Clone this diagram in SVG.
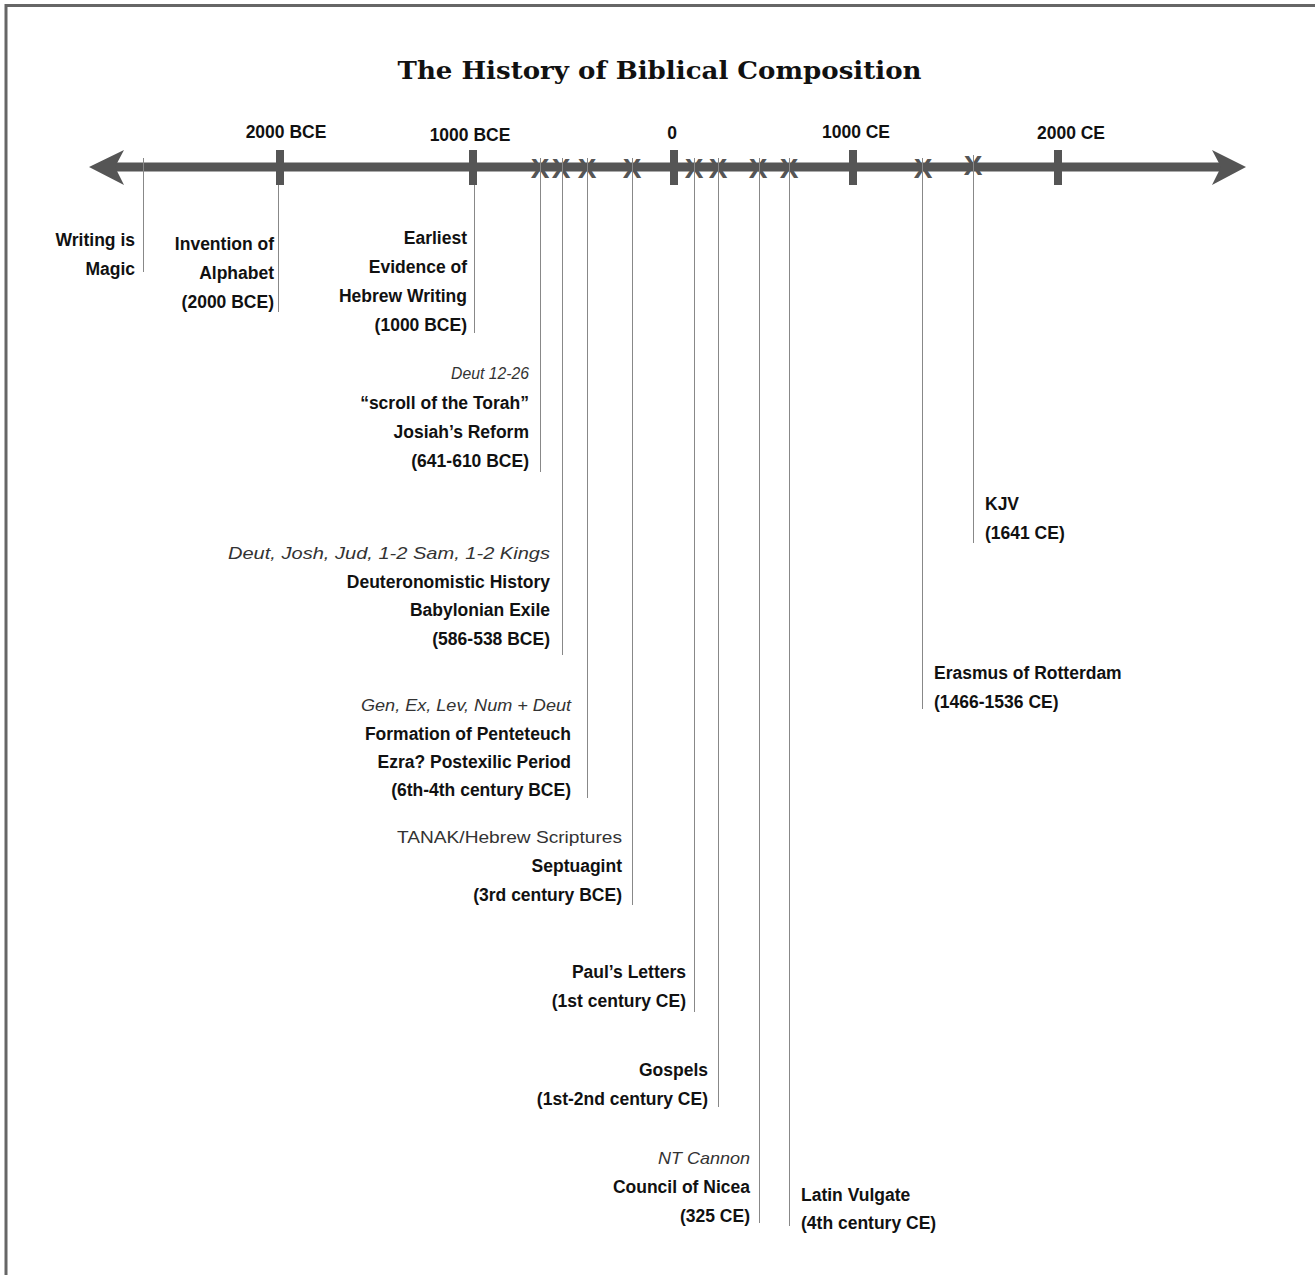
<svg xmlns="http://www.w3.org/2000/svg" width="1315" height="1275" viewBox="0 0 1315 1275">
<style>
.lbl{font-family:"Liberation Sans",Arial,sans-serif;font-weight:bold;font-size:17.5px;fill:#111}
.sub{font-family:"Liberation Sans",Arial,sans-serif;font-style:italic;font-size:17px;fill:#333}
.subn{font-family:"Liberation Sans",Arial,sans-serif;font-size:17px;fill:#333}
.end{text-anchor:end}
.ax{font-family:"Liberation Sans",Arial,sans-serif;font-weight:bold;font-size:17.5px;fill:#111;text-anchor:middle}
.x{font-family:"Liberation Sans Narrow","Liberation Sans",sans-serif;font-weight:bold;font-size:28px;fill:#555;text-anchor:middle}
.lead{stroke:#888;stroke-width:1;fill:none}
</style>
<rect x="0" y="0" width="1315" height="1275" fill="#fff"/>
<rect x="6" y="5.5" width="1400" height="1400" fill="none" stroke="#666" stroke-width="3"/>
<text x="659.5" y="79" font-family="DejaVu Serif,serif" font-weight="bold" font-size="25" text-anchor="middle" textLength="524" lengthAdjust="spacingAndGlyphs" fill="#111">The History of Biblical Composition</text>

<g id="axis">
<line x1="112" y1="167" x2="1224" y2="167" stroke="#555" stroke-width="9"/>
<polygon points="89,167 124,150 115,167 124,185" fill="#555"/>
<polygon points="1246,167 1212,150 1221,167 1212,185" fill="#555"/>
<rect x="276" y="150" width="8" height="35" fill="#555"/>
<rect x="469" y="150" width="8" height="35" fill="#555"/>
<rect x="670" y="150" width="8" height="35" fill="#555"/>
<rect x="849" y="150" width="8" height="35" fill="#555"/>
<rect x="1054" y="150" width="8" height="35" fill="#555"/>
<text class="ax" x="286" y="138">2000 BCE</text>
<text class="ax" x="470" y="141">1000 BCE</text>
<text class="ax" x="672" y="139">0</text>
<text class="ax" x="856" y="138">1000 CE</text>
<text class="ax" x="1071" y="139">2000 CE</text>
<text class="x" x="540" y="178">X</text>
<text class="x" x="561" y="178">X</text>
<text class="x" x="587" y="178">X</text>
<text class="x" x="632" y="178">X</text>
<text class="x" x="694" y="178">X</text>
<text class="x" x="718" y="178">X</text>
<text class="x" x="758" y="178">X</text>
<text class="x" x="789" y="178">X</text>
<text class="x" x="923" y="178">X</text>
<text class="x" x="973" y="175">X</text>
</g>

<g id="connectors">
<line class="lead" x1="143.5" y1="158" x2="143.5" y2="272"/>
<line class="lead" x1="278.5" y1="185" x2="278.5" y2="312"/>
<line class="lead" x1="474.5" y1="185" x2="474.5" y2="333"/>
<line class="lead" x1="540.5" y1="158" x2="540.5" y2="472"/>
<line class="lead" x1="562.5" y1="158" x2="562.5" y2="655"/>
<line class="lead" x1="587.5" y1="158" x2="587.5" y2="798"/>
<line class="lead" x1="632.5" y1="158" x2="632.5" y2="905"/>
<line class="lead" x1="694.5" y1="158" x2="694.5" y2="1012"/>
<line class="lead" x1="718.5" y1="158" x2="718.5" y2="1107"/>
<line class="lead" x1="759.5" y1="158" x2="759.5" y2="1223"/>
<line class="lead" x1="789.5" y1="158" x2="789.5" y2="1226"/>
<line class="lead" x1="922.5" y1="158" x2="922.5" y2="709"/>
<line class="lead" x1="973.5" y1="155" x2="973.5" y2="543"/>
</g>

<g id="writing-magic">
<text class="lbl end" x="135" y="246">Writing is</text>
<text class="lbl end" x="135" y="275">Magic</text>
</g>
<g id="alphabet">
<text class="lbl end" x="274" y="250">Invention of</text>
<text class="lbl end" x="274" y="279">Alphabet</text>
<text class="lbl end" x="274" y="308">(2000 BCE)</text>
</g>
<g id="hebrew-writing">
<text class="lbl end" x="467" y="244">Earliest</text>
<text class="lbl end" x="467" y="273">Evidence of</text>
<text class="lbl end" x="467" y="302">Hebrew Writing</text>
<text class="lbl end" x="467" y="331">(1000 BCE)</text>
</g>
<g id="josiah">
<text class="sub end" x="529" y="379" textLength="78" lengthAdjust="spacingAndGlyphs">Deut 12-26</text>
<text class="lbl end" x="529" y="409">“scroll of the Torah”</text>
<text class="lbl end" x="529" y="438">Josiah’s Reform</text>
<text class="lbl end" x="529" y="467">(641-610 BCE)</text>
</g>
<g id="deuteronomistic">
<text class="sub end" x="550" y="559" textLength="322" lengthAdjust="spacingAndGlyphs">Deut, Josh, Jud, 1-2 Sam, 1-2 Kings</text>
<text class="lbl end" x="550" y="588">Deuteronomistic History</text>
<text class="lbl end" x="550" y="616">Babylonian Exile</text>
<text class="lbl end" x="550" y="645">(586-538 BCE)</text>
</g>
<g id="pentateuch">
<text class="sub end" x="571" y="711" textLength="210" lengthAdjust="spacingAndGlyphs">Gen, Ex, Lev, Num + Deut</text>
<text class="lbl end" x="571" y="740">Formation of Penteteuch</text>
<text class="lbl end" x="571" y="768">Ezra? Postexilic Period</text>
<text class="lbl end" x="571" y="796">(6th-4th century BCE)</text>
</g>
<g id="septuagint">
<text class="subn end" x="622" y="843" textLength="225" lengthAdjust="spacingAndGlyphs">TANAK/Hebrew Scriptures</text>
<text class="lbl end" x="622" y="872">Septuagint</text>
<text class="lbl end" x="622" y="901">(3rd century BCE)</text>
</g>
<g id="paul">
<text class="lbl end" x="686" y="978">Paul’s Letters</text>
<text class="lbl end" x="686" y="1007">(1st century CE)</text>
</g>
<g id="gospels">
<text class="lbl end" x="708" y="1076">Gospels</text>
<text class="lbl end" x="708" y="1105">(1st-2nd century CE)</text>
</g>
<g id="nicea">
<text class="sub end" x="750" y="1164" textLength="92" lengthAdjust="spacingAndGlyphs">NT Cannon</text>
<text class="lbl end" x="750" y="1193">Council of Nicea</text>
<text class="lbl end" x="750" y="1222">(325 CE)</text>
</g>
<g id="vulgate">
<text class="lbl" x="801" y="1201">Latin Vulgate</text>
<text class="lbl" x="801" y="1229">(4th century CE)</text>
</g>
<g id="erasmus">
<text class="lbl" x="934" y="679">Erasmus of Rotterdam</text>
<text class="lbl" x="934" y="708">(1466-1536 CE)</text>
</g>
<g id="kjv">
<text class="lbl" x="985" y="510">KJV</text>
<text class="lbl" x="985" y="539">(1641 CE)</text>
</g>
</svg>
